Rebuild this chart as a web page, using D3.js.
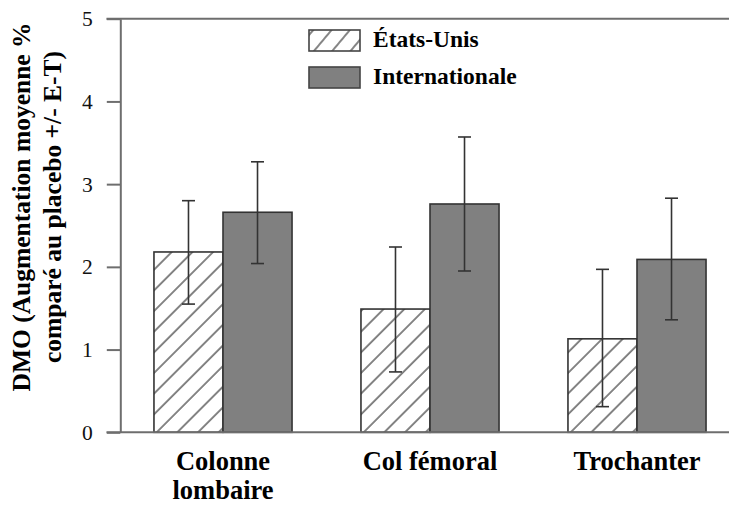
<!DOCTYPE html>
<html>
<head>
<meta charset="utf-8">
<script src="https://cdn.jsdelivr.net/npm/d3@7"></script>
<style>
  html, body { margin: 0; padding: 0; background: #fff; }
  svg { display: block; }
</style>
</head>
<body>
<svg id="chart" width="729" height="506" font-family="Liberation Serif"></svg>
<script>
// ---- data ----
const categories = [["Colonne", "lombaire"], ["Col fémoral"], ["Trochanter"]];
const categoryKeys = ["Colonne lombaire", "Col fémoral", "Trochanter"];
const seriesNames = ["États-Unis", "Internationale"];
const usValues = [2.18, 1.49, 1.13];
const usLow = [1.55, 0.73, 0.31];
const usHigh = [2.80, 2.24, 1.97];
const intlValues = [2.66, 2.76, 2.09];
const intlLow = [2.04, 1.95, 1.36];
const intlHigh = [3.27, 3.57, 2.83];
const yTicks = [0, 1, 2, 3, 4, 5];
const yTitle = ["DMO (Augmentation moyenne %", "comparé au placebo +/- E-T)"];

const series = [
  { name: seriesNames[0], values: usValues, low: usLow, high: usHigh, hatched: true },
  { name: seriesNames[1], values: intlValues, low: intlLow, high: intlHigh, hatched: false }
];

const FONT = "'Liberation Serif', 'Times New Roman', serif";
const svg = d3.select("#chart");
const W = 729;
const axisX = 120.3, y0 = 432.3, y5 = 18.7;

const y = d3.scaleLinear().domain([0, 5]).range([y0, y5]);
const x0 = d3.scaleBand().domain(categoryKeys).range([119.5, 740.5]).paddingInner(0.333).paddingOuter(0.1665);
const x1 = d3.scaleBand().domain(seriesNames).range([0, x0.bandwidth()]).padding(0);

// hatch pattern
const defs = svg.append("defs");
const pat = defs.append("pattern")
  .attr("id", "hatch").attr("patternUnits", "userSpaceOnUse")
  .attr("width", 14.6).attr("height", 10)
  .attr("patternTransform", "rotate(45)");
pat.append("rect").attr("width", 14.6).attr("height", 10).attr("fill", "#fff");
pat.append("line").attr("x1", 1).attr("x2", 1).attr("y1", 0).attr("y2", 10)
  .attr("stroke", "#444").attr("stroke-width", 1.3);

const patL = defs.append("pattern")
  .attr("id", "hatchL").attr("patternUnits", "userSpaceOnUse")
  .attr("width", 14).attr("height", 10)
  .attr("patternTransform", "translate(312,30) rotate(40)");
patL.append("rect").attr("width", 14).attr("height", 10).attr("fill", "#fff");
patL.append("line").attr("x1", 1).attr("x2", 1).attr("y1", 0).attr("y2", 10)
  .attr("stroke", "#444").attr("stroke-width", 1.3);

// frame lines
svg.append("line").attr("x1", 106.5).attr("x2", W).attr("y1", y(5)).attr("y2", y(5))
  .attr("stroke", "#6e6e6e").attr("stroke-width", 2);

// y axis
const yAxis = d3.axisLeft(y).tickValues(yTicks).tickFormat(d3.format("d"))
  .tickSize(13.5).tickSizeOuter(0).tickPadding(14);
const gy = svg.append("g").attr("transform", `translate(${axisX},0)`).call(yAxis);
gy.attr("font-family", FONT).attr("font-size", 21.5);
gy.select(".domain").attr("stroke", "#6e6e6e").attr("stroke-width", 2);
gy.selectAll(".tick line").attr("stroke", "#6e6e6e").attr("stroke-width", 2);
gy.selectAll(".tick text").attr("fill", "#111").style("font-family", FONT).style("font-size", "21.5px");

// bars
const groups = svg.append("g").selectAll("g").data(categoryKeys).join("g")
  .attr("transform", d => `translate(${x0(d)},0)`);

series.forEach(s => {
  groups.append("rect")
    .attr("x", x1(s.name))
    .attr("width", x1.bandwidth())
    .attr("y", (d, i) => y(s.values[i]))
    .attr("height", (d, i) => y(0) - y(s.values[i]))
    .attr("fill", s.hatched ? "url(#hatch)" : "#808080")
    .attr("stroke", "#333").attr("stroke-width", 1.6);
});

// baseline on top of bars
svg.append("line").attr("x1", 106.5).attr("x2", W).attr("y1", y(0)).attr("y2", y(0))
  .attr("stroke", "#6e6e6e").attr("stroke-width", 2);

// error bars
const capHalf = 6.5;
series.forEach(s => {
  const eg = groups.append("g").attr("stroke", "#333").attr("stroke-width", 1.6);
  const cx = x1(s.name) + x1.bandwidth() / 2;
  eg.append("line").attr("x1", cx).attr("x2", cx)
    .attr("y1", (d, i) => y(s.low[i])).attr("y2", (d, i) => y(s.high[i]));
  eg.append("line").attr("x1", cx - capHalf).attr("x2", cx + capHalf)
    .attr("y1", (d, i) => y(s.high[i])).attr("y2", (d, i) => y(s.high[i]));
  eg.append("line").attr("x1", cx - capHalf).attr("x2", cx + capHalf)
    .attr("y1", (d, i) => y(s.low[i])).attr("y2", (d, i) => y(s.low[i]));
});

// x category labels
categoryKeys.forEach((k, i) => {
  const t = svg.append("text")
    .attr("x", x0(k) + x0.bandwidth() / 2)
    .attr("y", 470)
    .attr("text-anchor", "middle")
    .style("font-family", FONT)
    .attr("font-weight", "bold").attr("font-size", 26.5);
  categories[i].forEach((line, j) => {
    t.append("tspan").attr("x", x0(k) + x0.bandwidth() / 2).attr("dy", j === 0 ? 0 : 29).text(line);
  });
});

// y title
yTitle.forEach((line, j) => {
  svg.append("text")
    .attr("transform", `translate(${30 + j * 31},207) rotate(-90)`)
    .attr("text-anchor", "middle")
    .style("font-family", FONT)
    .attr("font-weight", "bold").attr("font-size", 25.5)
    .text(line);
});

// legend
const legend = svg.append("g");
seriesNames.forEach((name, i) => {
  const s = series[i];
  const ly = 30 + i * 37;
  legend.append("rect").attr("x", 309).attr("y", ly).attr("width", 51).attr("height", 21)
    .attr("fill", s.hatched ? "url(#hatchL)" : "#808080")
    .attr("stroke", "#444").attr("stroke-width", 1.6);
  legend.append("text").attr("x", 373).attr("y", ly + 17)
    .style("font-family", FONT)
    .attr("font-weight", "bold").attr("font-size", 23.5).text(name);
});
</script>
</body>
</html>
